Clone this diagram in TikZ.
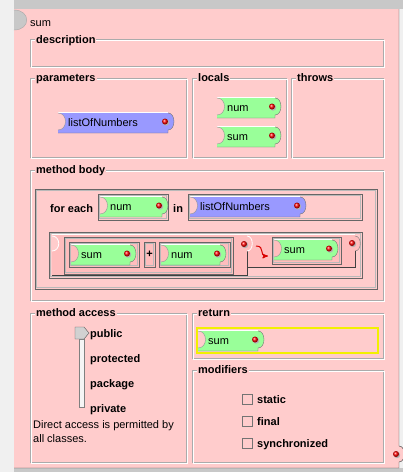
\documentclass[tikz,border=0pt]{standalone}
\usepackage{fontspec}
\setmainfont{Liberation Sans}
\usetikzlibrary{arrows}

\definecolor{methodpink}{HTML}{FFCCCC}
\definecolor{exprpink}{HTML}{FFBDBD}
\definecolor{varblue}{HTML}{9999FF}
\definecolor{vargreen}{HTML}{99FF99}
\definecolor{desk}{HTML}{C8C8C8}
\definecolor{etch}{HTML}{ABABAB}
\definecolor{retyellow}{HTML}{F2F000}

% titled etched panel: name, x1, y1, x2, y2, title
\newcommand{\panel}[6]{%
  \draw[etchdark] (#2,#3) rectangle (#4,#5);
  \draw[etchlight] (#2+1,#3+1) rectangle (#4+1,#5+1);
  \node[paneltitle] (#1) at (#2+5,#3+3.5) {#6};}

% sunken slot
\newcommand{\varslot}[4]{%
  \draw[slotout] (#1,#2) rectangle (#3,#4);
  \draw[slotin] (#1+1.5,#2+1.5) rectangle (#3-1.5,#4-1.5);}

% red plug
\newcommand{\plug}[2]{%
  \fill[black!30] (#1+1,#2+1) circle[radius=3.2pt];
  \shade[ball color=red] (#1,#2) circle[radius=3pt];}

% variable block: name, colour, left, top, width, text
\newcommand{\varblock}[6]{%
  \fill[#2] (#3,#4) -- (#3+#5,#4) -- (#3+#5,#4+1)
    .. controls (#3+#5+8,#4+1) and (#3+#5+8,#4+18) .. (#3+#5,#4+18)
    -- (#3+#5,#4+21) -- (#3,#4+21) -- (#3,#4+18)
    .. controls (#3+10,#4+18) and (#3+10,#4+1) .. (#3,#4+1) -- cycle;
  \draw[white] (#3,#4+0.5) -- (#3+#5,#4+0.5);
  \draw[black!55] (#3,#4+21) -- (#3+#5,#4+21) -- (#3+#5,#4+18)
    .. controls (#3+#5+8,#4+18) and (#3+#5+8,#4+1) .. (#3+#5,#4+1);
  \draw[black!40] (#3,#4+18) .. controls (#3+10,#4+18) and (#3+10,#4+1) .. (#3,#4+1);
  \node[plaintext] (#1) at (#3+10,#4+14.5) {#6};
  \plug{#3+#5-3}{#4+9.5}}

\begin{document}
\begin{tikzpicture}[x=1pt,y=-1pt,
    paneltitle/.style={anchor=base west,fill=methodpink,inner sep=1pt,
                       font=\fontsize{11}{12}\selectfont\bfseries},
    boldtext/.style={anchor=base west,inner sep=0pt,
                     font=\fontsize{11}{12}\selectfont\bfseries},
    plaintext/.style={anchor=base west,inner sep=0pt,
                      font=\fontsize{11}{14}\selectfont},
    etchdark/.style={draw=etch,line width=1pt},
    etchlight/.style={draw=white,line width=1pt},
    slotout/.style={draw=black!60,line width=1pt},
    slotin/.style={draw=gray!55,line width=0.8pt},
    checkbox/.style={draw=black!55,fill=methodpink,line width=0.8pt}]

 \useasboundingbox (0,0) rectangle (403,472);
 \fill[black!6] (0,0) rectangle (403,472);
 \fill[desk] (14,0) rectangle (403,9);
 \fill[desk] (14,468) rectangle (403,472);

 % the method block
 \fill[methodpink] (14,9) rectangle (399,468);
 \fill[methodpink] (399,446) .. controls (406,446) and (406,462) .. (399,462);
 \draw[black!75] (399,9) -- (399,446) .. controls (406,446) and (406,462) .. (399,462)
                 -- (399,468) -- (14,468);
 \plug{396}{454}
 \fill[desk] (14,10) .. controls (31,10) and (31,30) .. (14,30) -- cycle;
 \draw[black!35] (14,10) .. controls (31,10) and (31,30) .. (14,30);
 \node[plaintext] (methodname) at (30,26) {sum};

 \panel{description}{30}{39.5}{383}{66}{description}
 \panel{parameters}{30}{78}{186}{157}{parameters}
 \panel{locals}{192}{78}{286}{157}{locals}
 \panel{throws}{291}{78}{383}{157}{throws}
 \panel{body}{30}{170}{383}{300}{method body}
 \panel{access}{30}{313}{186}{462}{method access}
 \panel{return}{192}{313}{383}{358}{return}
 \panel{modifiers}{192}{370}{383}{462}{modifiers}

 \varblock{param}{varblue}{58}{112}{110}{listOfNumbers}
 \varblock{localnum}{vargreen}{217}{97}{58}{num}
 \varblock{localsum}{vargreen}{217}{126}{58}{sum}

 % for each loop
 \varslot{35}{189}{377}{289}
 \node[boldtext] (foreach) at (50,212) {for each};
 \varslot{98}{194}{168}{220}
 \varblock{loopvar}{vargreen}{100}{196}{62}{num}
 \node[boldtext] (inword) at (173,212) {in};
 \varslot{188}{194}{362}{220}
 \varblock{looplist}{varblue}{190}{196}{110}{listOfNumbers}

 % sum = sum + num
 \varslot{49}{232}{362}{278}
 \fill[exprpink] (52,234) -- (355,234) -- (355,236)
    .. controls (362,236) and (362,251) .. (355,251) -- (355,267) -- (247,267)
    -- (247,275) -- (52,275) -- (52,251) .. controls (61,251) and (61,236) .. (52,236) -- cycle;
 \draw[white] (52,234.5) -- (355,234.5);
 \draw[white,line width=0.8pt] (52,251) .. controls (61,251) and (61,236) .. (52,236);
 \draw[black!55] (355,236) .. controls (362,236) and (362,251) .. (355,251);
 \draw[black!75] (355,251) -- (355,267) -- (247,267);
 \draw[black!75] (247,251) -- (247,275) -- (52,275);
 \draw[white,line width=0.8pt] (247,236) .. controls (254,236) and (254,251) .. (247,251);
 \plug{244}{244}
 \varslot{64}{237}{233}{274}
 \varslot{69}{242}{139}{267}
 \varblock{lhs}{vargreen}{71}{244}{59}{sum}
 \varslot{144}{242}{155}{267}
 \node[boldtext,anchor=center] (plus) at (149.5,254) {+};
 \varslot{159}{242}{230}{267}
 \varblock{rhs}{vargreen}{161}{244}{59}{num}
 \coordinate (assignfrom) at (256,246);
 \coordinate (assignto) at (268,256);
 \draw[red!85!black,line width=1pt,->,>=stealth'] (assignfrom) to[out=0,in=180,looseness=1.6] (assignto);
 \varslot{272}{237}{341}{264}
 \varblock{target}{vargreen}{274}{239}{58}{sum}
 \plug{352}{243}

 % access slider
 \draw[black!50,fill=black!4] (79,339) rectangle (84,407);
 \draw[black!65,fill=black!18] (75,327) -- (84,327) -- (89,333) -- (84,339) -- (75,339) -- cycle;
 \node[boldtext] (public) at (90,337) {public};
 \node[boldtext] (protected) at (90,362) {protected};
 \node[boldtext] (package) at (90,387) {package};
 \node[boldtext] (private) at (90,412) {private};
 \node[plaintext] (accessnote) at (33,428) {Direct access is permitted by};
 \node[plaintext] (accessnotetwo) at (33,442.5) {all classes.};

 % return type
 \draw[retyellow,line width=1.5pt] (197,328) rectangle (378,353);
 \varblock{result}{vargreen}{198}{330}{60}{sum}

 % modifiers
 \draw[checkbox] (242,394) rectangle (252,404);
 \node[boldtext] (static) at (257,403) {static};
 \draw[checkbox] (242,416) rectangle (252,426);
 \node[boldtext] (final) at (257,425) {final};
 \draw[checkbox] (242,438) rectangle (252,448);
 \node[boldtext] (synchronized) at (257,447) {synchronized};

\end{tikzpicture}
\end{document}
